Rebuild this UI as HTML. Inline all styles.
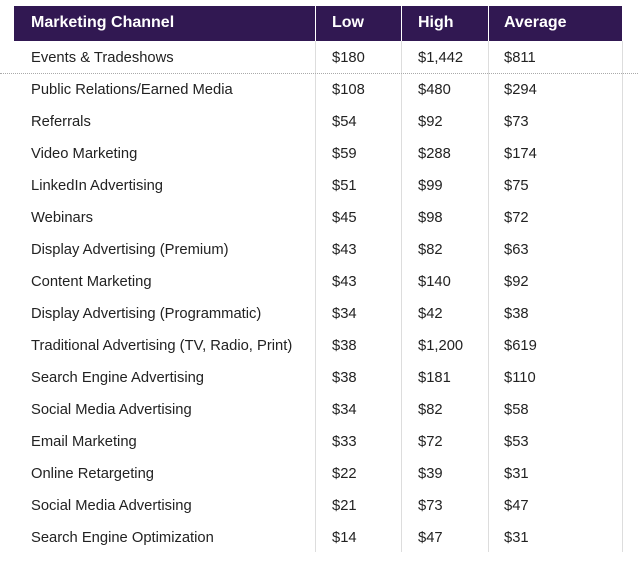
<!DOCTYPE html>
<html><head><style>
body{margin:0;width:638px;height:571px;background:#fff;font-family:"Liberation Sans",Arial,sans-serif;position:relative;overflow:hidden}
.hd{position:absolute;left:14px;top:6px;width:608px;height:35px;background:#311852}
.h{position:absolute;top:6px;height:35px;line-height:33px;color:#fff;font-weight:bold;font-size:16px}
.v{position:absolute;top:41px;height:511px;width:1px;background:#ddd}
.hv{position:absolute;top:6px;height:35px;width:1px;background:#fff}
.c{position:absolute;font-size:14.75px;color:#222;line-height:18px}
.dot{position:absolute;left:0;top:73px;width:638px;border-top:1px dotted #aaa}
</style></head><body>
<div class="hd"></div>
<div class="hv" style="left:315px"></div><div class="hv" style="left:401px"></div><div class="hv" style="left:488px"></div>
<div class="h" style="left:31px">Marketing Channel</div>
<div class="h" style="left:332px">Low</div>
<div class="h" style="left:418px">High</div>
<div class="h" style="left:504px">Average</div>
<div class="v" style="left:315px"></div><div class="v" style="left:401px"></div><div class="v" style="left:488px"></div><div class="v" style="left:622px"></div>
<div class="dot"></div>
<div id="rows"></div>
<script>
var d=[["Events & Tradeshows","$180","$1,442","$811"],["Public Relations/Earned Media","$108","$480","$294"],["Referrals","$54","$92","$73"],["Video Marketing","$59","$288","$174"],["LinkedIn Advertising","$51","$99","$75"],["Webinars","$45","$98","$72"],["Display Advertising (Premium)","$43","$82","$63"],["Content Marketing","$43","$140","$92"],["Display Advertising (Programmatic)","$34","$42","$38"],["Traditional Advertising (TV, Radio, Print)","$38","$1,200","$619"],["Search Engine Advertising","$38","$181","$110"],["Social Media Advertising","$34","$82","$58"],["Email Marketing","$33","$72","$53"],["Online Retargeting","$22","$39","$31"],["Social Media Advertising","$21","$73","$47"],["Search Engine Optimization","$14","$47","$31"]];
var x=[31,332,418,504],h="";
d.forEach(function(r,i){var y=57+i*32-8;r.forEach(function(t,j){h+='<div class="c" style="left:'+x[j]+'px;top:'+y+'px">'+t.replace("&","&amp;")+'</div>';});});
document.getElementById("rows").innerHTML=h;
</script>
</body></html>
